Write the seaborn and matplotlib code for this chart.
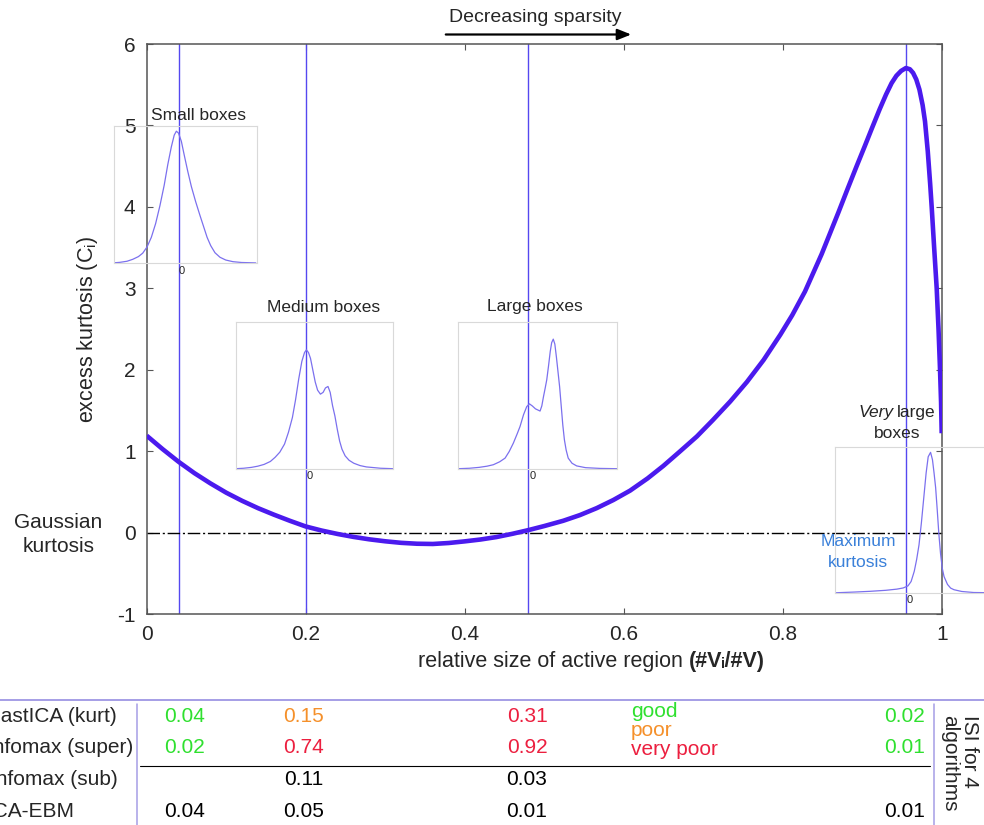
import matplotlib
matplotlib.use("Agg")
import matplotlib.pyplot as plt
from matplotlib.lines import Line2D
from matplotlib.patches import FancyArrowPatch
import seaborn as sns

# ---- excess kurtosis of the source vs. relative size of the active region ----
active_ratio = [0.000, 0.020, 0.040, 0.060, 0.080, 0.100, 0.120, 0.140, 0.160, 0.180,
                0.200, 0.220, 0.240, 0.260, 0.280, 0.300, 0.320, 0.340, 0.360, 0.380,
                0.400, 0.420, 0.440, 0.460, 0.480, 0.500, 0.524, 0.545, 0.566, 0.587,
                0.608, 0.630, 0.650, 0.670, 0.692, 0.712, 0.734, 0.755, 0.776, 0.797,
                0.812, 0.828, 0.849, 0.870, 0.882, 0.893, 0.903, 0.912, 0.922, 0.930,
                0.937, 0.943, 0.949, 0.955, 0.960, 0.964, 0.968, 0.972, 0.976, 0.979,
                0.9825, 0.9855, 0.9874, 0.9905, 0.9937, 0.9960, 0.9979, 0.9992, 1.000]
excess_kurt = [1.19, 1.025, 0.87, 0.73, 0.605, 0.49, 0.39, 0.30, 0.22, 0.145,
               0.075, 0.025, -0.017, -0.053, -0.083, -0.107, -0.126, -0.137, -0.14, -0.128,
               -0.108, -0.085, -0.055, -0.015, 0.03, 0.08, 0.145, 0.215, 0.30, 0.40,
               0.515, 0.665, 0.82, 0.99, 1.18, 1.38, 1.61, 1.85, 2.12, 2.43,
               2.67, 2.96, 3.42, 3.93, 4.23, 4.50, 4.74, 4.96, 5.20, 5.38,
               5.52, 5.61, 5.67, 5.705, 5.69, 5.645, 5.565, 5.44, 5.25, 5.05,
               4.68, 4.28, 4.00, 3.50, 3.00, 2.50, 2.00, 1.60, 1.22]

# relative sizes of the four example box configurations
box_ratio = [0.04, 0.20, 0.48, 0.955]

# source densities for each configuration (offset from zero, normalised height)
small_x = [-4.8, -4.3, -3.8, -3.4, -3.0, -2.7, -2.4, -2.1, -1.8, -1.5, -1.2, -0.95, -0.7, -0.5,
           -0.35, -0.2, 0.0, 0.2, 0.45, 0.7, 1.0, 1.3, 1.55, 1.8, 2.05, 2.35, 2.7, 3.1, 3.6, 4.2, 5.2]
small_d = [0.004, 0.008, 0.016, 0.03, 0.05, 0.075, 0.12, 0.19, 0.29, 0.42, 0.57, 0.72, 0.85, 0.935,
           0.964, 0.95, 0.89, 0.79, 0.67, 0.56, 0.45, 0.35, 0.27, 0.19, 0.13, 0.078, 0.045, 0.025,
           0.013, 0.007, 0.004]

medium_x = [-4.7, -4.2, -3.7, -3.3, -2.9, -2.5, -2.2, -1.9, -1.6, -1.35, -1.1, -0.9, -0.7, -0.5,
            -0.33, -0.21, -0.08, 0.05, 0.2, 0.35, 0.5, 0.68, 0.85, 1.0, 1.16, 1.3, 1.45, 1.6,
            1.75, 1.9, 2.05, 2.25, 2.5, 2.8, 3.2, 3.6, 4.5, 5.3]
medium_d = [0.003, 0.006, 0.012, 0.02, 0.032, 0.052, 0.08, 0.115, 0.17, 0.25, 0.35, 0.47, 0.61, 0.73,
            0.79, 0.808, 0.79, 0.75, 0.67, 0.59, 0.535, 0.508, 0.52, 0.55, 0.56, 0.52, 0.43, 0.36,
            0.27, 0.19, 0.135, 0.09, 0.06, 0.04, 0.024, 0.015, 0.006, 0.003]

large_x = [-4.7, -4.0, -3.4, -2.9, -2.5, -2.1, -1.76, -1.5, -1.24, -1.0, -0.82, -0.6, -0.4, -0.23,
           -0.05, 0.15, 0.44, 0.55, 0.65, 0.76, 0.86, 0.97, 1.08, 1.17, 1.27, 1.37, 1.47, 1.57,
           1.67, 1.77, 1.87, 1.97, 2.08, 2.21, 2.45, 2.74, 3.3, 4.2, 5.3]
large_d = [0.003, 0.006, 0.012, 0.02, 0.03, 0.05, 0.075, 0.12, 0.177, 0.24, 0.29, 0.37, 0.425, 0.444,
           0.43, 0.41, 0.395, 0.43, 0.49, 0.55, 0.607, 0.70, 0.80, 0.86, 0.884, 0.85, 0.76, 0.66,
           0.56, 0.43, 0.30, 0.20, 0.13, 0.075, 0.04, 0.022, 0.01, 0.005, 0.003]

vlarge_x = [-4.7, -3.5, -2.5, -1.5, -0.8, -0.4, -0.1, 0.1, 0.3, 0.45, 0.6, 0.75, 0.9, 1.05, 1.18,
            1.33, 1.45, 1.55, 1.65, 1.75, 1.85, 1.96, 2.07, 2.18, 2.4, 2.6, 2.81, 3.3, 4.05, 5.3]
vlarge_d = [0.003, 0.008, 0.013, 0.02, 0.028, 0.036, 0.05, 0.08, 0.15, 0.23, 0.33, 0.48, 0.65, 0.82,
            0.93, 0.96, 0.91, 0.82, 0.72, 0.57, 0.41, 0.27, 0.17, 0.114, 0.06, 0.035, 0.024, 0.012,
            0.005, 0.003]

# ---- ISI for four ICA algorithms at each box size ----
algo_names = ["FastICA (kurt)", "Infomax (super)", "Infomax (sub)", "ICA-EBM"]
isi_small = ["0.04", "0.02", "", "0.04"]
isi_medium = ["0.15", "0.74", "0.11", "0.05"]
isi_large = ["0.31", "0.92", "0.03", "0.01"]
isi_vlarge = ["0.02", "0.01", "", "0.01"]
grade_small = ["good", "good", "", ""]
grade_medium = ["poor", "very poor", "", ""]
grade_large = ["very poor", "very poor", "", ""]
grade_vlarge = ["good", "good", "", ""]
grade_names = ["good", "poor", "very poor"]

sns.set_style("ticks")
plt.rcParams["font.family"] = ["Liberation Sans", "DejaVu Sans"]
plt.rcParams["mathtext.default"] = "regular"

CURVE = "#4b1aee"
VLINE = "#5548f0"
DENS = "#7b70ee"
FRAME = "#d9d9d9"
LAV = "#a59ee6"
grade_color = {"good": "#2fe02f", "poor": "#f5902a", "very poor": "#ec1f3f", "": "black"}

W, H = 984, 825
fig = plt.figure(figsize=(W / 100, H / 100), dpi=100)


def fx(p):
    return p / W


def fy(p):
    return 1 - p / H


ax = fig.add_axes([fx(146.7), fy(614), (941.7 - 146.7) / W, (614 - 44) / H])

for b in box_ratio:
    ax.axvline(b, color=VLINE, lw=1.0, zorder=1)
ax.plot([0, 1], [0, 0], color="black", lw=1.0, ls=(0, (9, 2, 1.5, 2)), zorder=1.5)
sns.lineplot(x=active_ratio, y=excess_kurt, color=CURVE, lw=3.3, ax=ax, zorder=3, sort=False,
             solid_joinstyle="round", solid_capstyle="butt")

ax.set_xlim(0, 1)
ax.set_ylim(-1, 6)
ax.set_xticks([0, 0.2, 0.4, 0.6, 0.8, 1.0])
ax.set_xticklabels(["0", "0.2", "0.4", "0.6", "0.8", "1"])
ax.set_yticks(range(-1, 7))
ax.set_yticklabels([str(v) for v in range(-1, 7)])
ax.tick_params(direction="in", top=True, right=True, length=4, width=0.8,
               color="#555555", labelsize=15, pad=8)
for s in ax.spines.values():
    s.set_visible(True)
    s.set_color("#555555")
    s.set_linewidth(1.1)
ax.set_xlabel("")
ax.set_ylabel("excess kurtosis (C$_i$)", fontsize=15.5, labelpad=12)

# x-axis title, with the ratio notation set in bold
fig.text(fx(418), fy(662), "relative size of active region", fontsize=15.5, ha="left", va="center")
fig.text(fx(689), fy(662), "(#V\u1d62/#V)", fontsize=15.5, ha="left", va="center", fontweight="bold")


def add_density(rect, xs, ds):
    ia = ax.inset_axes(rect, transform=ax.transData)
    ia.set_facecolor("none")
    sns.lineplot(x=xs, y=ds, ax=ia, color=DENS, lw=0.9, sort=False, solid_joinstyle="round")
    ia.set_xlim(-4.7, 5.3)
    ia.set_ylim(0, 1)
    ia.set_xticks([0])
    ia.set_xticklabels(["0"])
    ia.tick_params(axis="x", length=0, labelsize=8, pad=1.5)
    ia.set_yticks([])
    ia.set_xlabel("")
    ia.set_ylabel("")
    for s in ia.spines.values():
        s.set_visible(True)
        s.set_color(FRAME)
        s.set_linewidth(0.8)
    return ia


add_density([-0.041, 3.305, 0.18, 1.685], small_x, small_d)
add_density([0.112, 0.779, 0.198, 1.813], medium_x, medium_d)
add_density([0.392, 0.779, 0.200, 1.806], large_x, large_d)
add_density([0.866, -0.745, 0.199, 1.802], vlarge_x, vlarge_d)

# configuration labels
fig.text(fx(198.7), fy(116), "Small boxes", fontsize=12.5, ha="center", va="center")
fig.text(fx(324), fy(307), "Medium boxes", fontsize=12.5, ha="center", va="center")
fig.text(fx(535), fy(307), "Large boxes", fontsize=12.5, ha="center", va="center")
fig.text(fx(894), fy(412), "Very", fontsize=12.5, ha="right", va="center", fontstyle="italic")
fig.text(fx(897), fy(412), "large", fontsize=12.5, ha="left", va="center")
fig.text(fx(897), fy(433), "boxes", fontsize=12.5, ha="center", va="center")
fig.text(fx(858), fy(541), "Maximum", fontsize=12.5, ha="center", va="center", color="#3a80d9")
fig.text(fx(858), fy(562.5), "kurtosis", fontsize=12.5, ha="center", va="center", color="#3a80d9")
fig.text(fx(58.3), fy(523), "Gaussian", fontsize=15, ha="center", va="center")
fig.text(fx(58.3), fy(547), "kurtosis", fontsize=15, ha="center", va="center")

# sparsity direction
fig.text(fx(535), fy(18), "Decreasing sparsity", fontsize=14, ha="center", va="center")
fig.add_artist(FancyArrowPatch((fx(443), fy(34.5)), (fx(634), fy(34.5)),
                               transform=fig.transFigure,
                               arrowstyle="-|>,head_length=0.55,head_width=0.22",
                               mutation_scale=15, lw=1.6, color="black"))

# ---- ISI table ----
fig.add_artist(Line2D([0, 1], [fy(700), fy(700)], transform=fig.transFigure, color=LAV, lw=1.4))
fig.add_artist(Line2D([fx(137), fx(137)], [fy(704), 0], transform=fig.transFigure, color=LAV, lw=1.1))
fig.add_artist(Line2D([fx(934), fx(934)], [fy(704), 0], transform=fig.transFigure, color=LAV, lw=1.1))
fig.add_artist(Line2D([fx(140), fx(930)], [fy(766), fy(766)], transform=fig.transFigure, color="black", lw=0.8))

row_y = [716, 747.3, 779.3, 811.7]
name_right = [116.5, 133.5, 117.5, 74.5]
col_x = [184.7, 303.8, 527, 904.5]
columns = [(isi_small, grade_small), (isi_medium, grade_medium),
           (isi_large, grade_large), (isi_vlarge, grade_vlarge)]

for i, name in enumerate(algo_names):
    fig.text(fx(name_right[i]), fy(row_y[i]), name, fontsize=15, ha="right", va="center")
    for cx, (vals, grades) in zip(col_x, columns):
        if vals[i]:
            fig.text(fx(cx), fy(row_y[i]), vals[i], fontsize=15, ha="center", va="center",
                     color=grade_color[grades[i]])

for gy, g in zip([711.7, 730.7, 749.3], grade_names):
    fig.text(fx(631), fy(gy), g, fontsize=15, ha="left", va="center", color=grade_color[g])

fig.text(fx(970), fy(715), "ISI for 4", fontsize=15, rotation=-90, rotation_mode="anchor",
         ha="left", va="center")
fig.text(fx(950), fy(715), "algorithms", fontsize=15, rotation=-90, rotation_mode="anchor",
         ha="left", va="center")

fig.savefig("out.png", dpi=100)
